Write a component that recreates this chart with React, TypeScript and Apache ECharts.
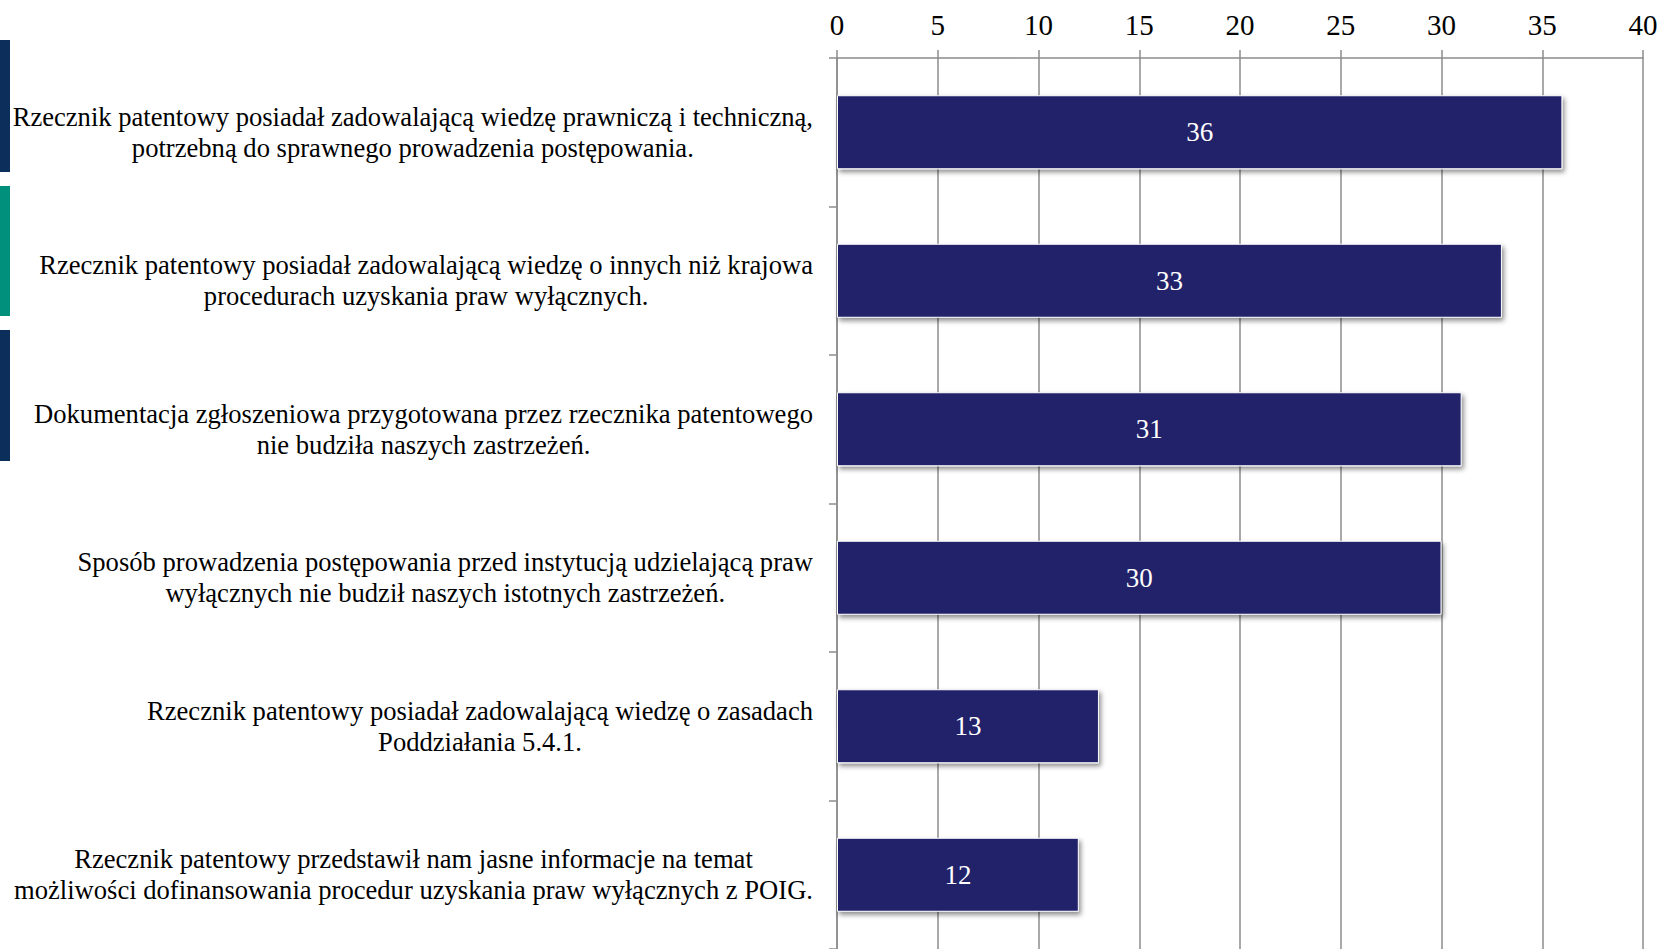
import React, { useEffect, useRef } from "react";
import * as echarts from "echarts";

const categories: string[] = [
  "Rzecznik patentowy posiadał zadowalającą wiedzę prawniczą i techniczną,\npotrzebną do sprawnego prowadzenia postępowania.",
  "Rzecznik patentowy posiadał zadowalającą wiedzę o innych niż krajowa\nprocedurach uzyskania praw wyłącznych.",
  "Dokumentacja zgłoszeniowa przygotowana przez rzecznika patentowego\nnie budziła naszych zastrzeżeń.",
  "Sposób prowadzenia postępowania przed instytucją udzielającą praw\nwyłącznych nie budził naszych istotnych zastrzeżeń.",
  "Rzecznik patentowy posiadał zadowalającą wiedzę o zasadach\nPoddziałania 5.4.1.",
  "Rzecznik patentowy przedstawił nam jasne informacje na temat\nmożliwości dofinansowania procedur uzyskania praw wyłącznych z POIG.",
];
const values: number[] = [36, 33, 31, 30, 13, 12];
const axisMin = 0;
const axisMax = 40;
const axisStep = 5;

const FONT = "Liberation Serif, Times New Roman, serif";

export default function App() {
  const ref = useRef<HTMLDivElement>(null);
  useEffect(() => {
    if (!ref.current) return;
    const chart = echarts.init(ref.current, null, { renderer: "svg" });
    chart.setOption({
      animation: false,
      backgroundColor: "#ffffff",
      textStyle: { fontFamily: FONT },
      grid: { left: 837, right: 18, top: 58, height: 895, containLabel: false },
      xAxis: {
        type: "value",
        position: "top",
        min: axisMin,
        max: axisMax,
        interval: axisStep,
        axisLine: { show: true, lineStyle: { color: "#8c8c8c", width: 1.5 } },
        axisTick: { show: true, length: 8, lineStyle: { color: "#8c8c8c", width: 1.5 } },
        axisLabel: { color: "#000", fontFamily: FONT, fontSize: 29, margin: 19 },
        splitLine: { show: true, lineStyle: { color: "#8c8c8c", width: 1.5 } },
      },
      yAxis: {
        type: "category",
        inverse: true,
        data: categories,
        axisLine: { show: true, lineStyle: { color: "#8c8c8c", width: 1.5 } },
        axisTick: { show: true, length: 8, lineStyle: { color: "#8c8c8c", width: 1.5 } },
        axisLabel: {
          color: "#000",
          fontFamily: FONT,
          fontSize: 26.6,
          lineHeight: 31,
          margin: 24,
          align: "right",
          formatter: (v: string) =>
            v.split("\n").map((l) => `{c|${l}}`).join("\n"),
          rich: {
            c: { align: "center", fontFamily: FONT, fontSize: 26.6, lineHeight: 31, color: "#000" },
          },
        },
      },
      graphic: [
        { type: "rect", shape: { x: 0, y: 40, width: 10, height: 132 }, style: { fill: "#0b2e5b" } },
        { type: "rect", shape: { x: 0, y: 186, width: 10, height: 130 }, style: { fill: "#00907c" } },
        { type: "rect", shape: { x: 0, y: 330, width: 10, height: 131 }, style: { fill: "#0b2e5b" } },
      ],
      series: [
        {
          type: "bar",
          data: values,
          barWidth: 74,
          itemStyle: {
            color: "#22226a",
            borderColor: "#ffffff",
            borderWidth: 1,
            shadowColor: "rgba(0,0,0,0.45)",
            shadowBlur: 5,
            shadowOffsetX: 2,
            shadowOffsetY: 3,
          },
          label: {
            show: true,
            position: "inside",
            color: "#ffffff",
            fontFamily: FONT,
            fontSize: 27,
          },
        },
      ],
    });
    return () => chart.dispose();
  }, []);
  return (
    <div
      ref={ref}
      style={{ position: "fixed", left: 0, top: 0, width: 1661, height: 949, background: "#fff" }}
    />
  );
}
